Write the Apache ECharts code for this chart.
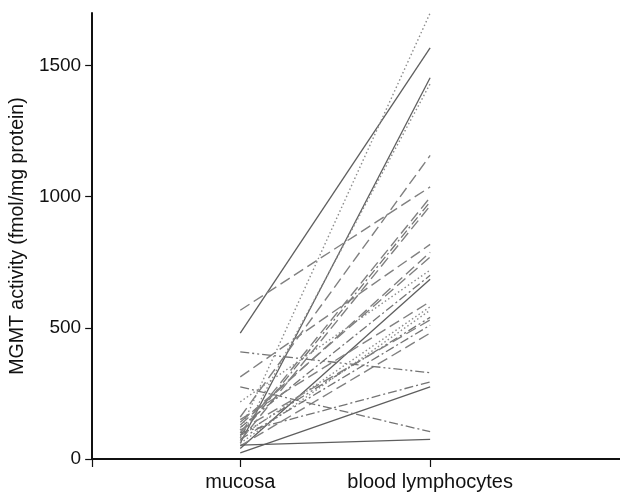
<!DOCTYPE html>
<html>
<head>
<meta charset="utf-8">
<script src="https://cdn.jsdelivr.net/npm/echarts@6/dist/echarts.min.js"></script>
<style>html,body{margin:0;padding:0;background:#fff}#c{width:620px;height:492px}</style>
</head>
<body>
<div id="c"></div>
<script>
// Categories (x positions 1 and 2)
const categories = ['mucosa', 'blood lymphocytes'];
// MGMT activity per patient, mucosa and blood lymphocytes (fmol/mg protein)
const mucosaValues = [480, 60, 110, 80, 567, 160, 100, 90, 70, 313, 130, 218, 120, 40, 150, 60, 90, 110, 75, 50, 408, 100, 23, 275, 53, 140, 85];
const bloodValues  = [1567, 1453, 1700, 1430, 1037, 1157, 997, 980, 965, 818, 788, 720, 700, 685, 600, 567, 540, 530, 510, 480, 329, 294, 275, 104, 75, 770, 580];
// line pattern kind of each patient's line
const lineKinds    = ['solid','solid','dot','dot','dash','dash','dash','dashdot','dash','dash','dash','dot','dashdot','solid','dash','dot','dashdotdot','dash','dashdot','dash','dashdotdot','dashdot','solid','dashdot','solid','dash','dot'];
const yTicks = [0, 500, 1000, 1500];

const patterns = {
  solid: {type: 'solid', color: '#5e5e5e', width: 1.3},
  dot: {type: [1.5, 2.5], color: '#8c8c8c', width: 1.4},
  dash: {type: [11, 5], color: '#808080', width: 1.4},
  dashdot: {type: [9, 3, 2, 3], color: '#747474', width: 1.3},
  dashdotdot: {type: [9, 3, 2, 3, 2, 3], color: '#747474', width: 1.3}
};

const series = mucosaValues.map((m, i) => ({
  type: 'line',
  data: [[1, m], [2, bloodValues[i]]],
  symbol: 'none',
  silent: true,
  clip: false,
  lineStyle: {
    type: patterns[lineKinds[i]].type,
    color: patterns[lineKinds[i]].color,
    width: patterns[lineKinds[i]].width
  }
}));

const font = 'Liberation Sans, Arial, Helvetica, sans-serif';
const chart = echarts.init(document.getElementById('c'), null, {renderer: 'canvas'});
chart.setOption({
  animation: false,
  backgroundColor: '#fff',
  grid: {left: 92, right: 0, top: 13, bottom: 33, containLabel: false},
  xAxis: {
    type: 'value', min: 0.22, max: 3,
    splitLine: {show: false},
    axisLine: {show: true, lineStyle: {color: '#111', width: 2}},
    axisTick: {show: true, length: 8, lineStyle: {color: '#111', width: 1.2}, customValues: [0.22, 1, 2]},
    axisLabel: {
      customValues: [1, 2], margin: 13,
      color: '#111', fontSize: 20, fontFamily: font,
      formatter: v => categories[Math.round(v) - 1] || ''
    }
  },
  yAxis: {
    type: 'value', min: 0, max: 1700,
    splitLine: {show: false},
    name: 'MGMT activity (fmol/mg protein)',
    nameLocation: 'middle', nameGap: 59, nameRotate: 90,
    nameTextStyle: {color: '#111', fontSize: 19.5, fontFamily: font},
    axisLine: {show: true, lineStyle: {color: '#111', width: 2}},
    axisTick: {show: true, length: 7, lineStyle: {color: '#111', width: 1.2}, customValues: yTicks},
    axisLabel: {customValues: yTicks, margin: 11, color: '#111', fontSize: 19, fontFamily: font, formatter: v => String(v)}
  },
  series: series
});
</script>
</body>
</html>
